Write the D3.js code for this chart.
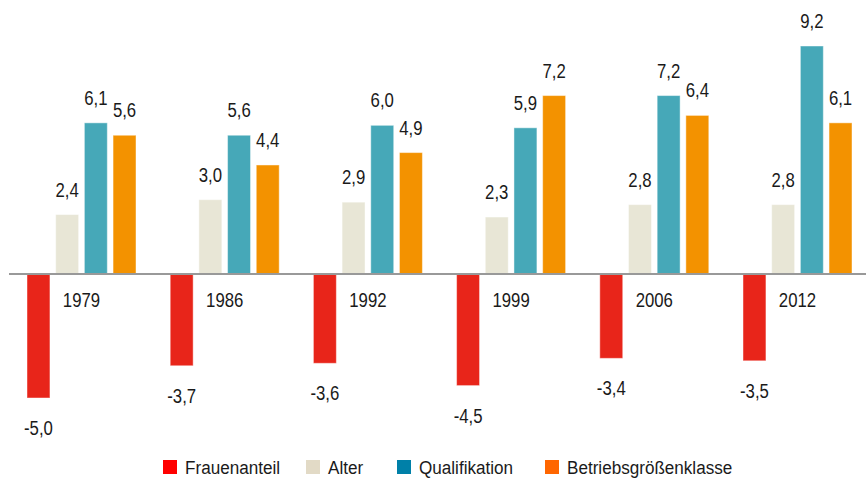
<!DOCTYPE html>
<html>
<head>
<meta charset="utf-8">
<script src="https://cdn.jsdelivr.net/npm/d3@7"></script>
<style>
    body { margin: 0; background: #fff; }
    svg text { font-family: "Liberation Sans", Arial, sans-serif; fill: #1a1a1a; }
</style>
</head>
<body>
<div id="chart"></div>
<script>
// Data
const years = ["1979", "1986", "1992", "1999", "2006", "2012"];
const seriesNames = ["Frauenanteil", "Alter", "Qualifikation", "Betriebsgrößenklasse"];
const frauenanteil = [-5.0, -3.7, -3.6, -4.5, -3.4, -3.5];
const alter = [2.4, 3.0, 2.9, 2.3, 2.8, 2.8];
const qualifikation = [6.1, 5.6, 6.0, 5.9, 7.2, 9.2];
const betriebsgroesse = [5.6, 4.4, 4.9, 7.2, 6.4, 6.1];

const barColors = ["#e8251a", "#e8e6d6", "#46a8b8", "#f39200"];
const legendColors = ["#ff0000", "#e2dac6", "#0080a8", "#ff6600"];

const width = 866, height = 479;
// condensed look: squeeze text horizontally
const squeeze = 0.86;

const svg = d3.select("#chart").append("svg")
    .attr("width", width)
    .attr("height", height);

// Build rows from the arrays
const allSeries = [frauenanteil, alter, qualifikation, betriebsgroesse];
const rows = years.map((yr, i) => ({
    year: yr,
    values: seriesNames.map((s, j) => ({ key: s, value: allSeries[j][i] }))
}));

// Scales
const x0 = d3.scaleBand()
    .domain(years)
    .range([27, 852])
    .paddingInner(0.2388)
    .paddingOuter(0)
    .align(0);

const x1 = d3.scaleBand()
    .domain(seriesNames)
    .range([0, x0.bandwidth()])
    .paddingInner(0.2)
    .paddingOuter(0);

const y = d3.scaleLinear()
    .domain([-5, 9.2])
    .range([398, 46]);

const color = d3.scaleOrdinal().domain(seriesNames).range(barColors);
const fmt = v => d3.format(".1f")(v).replace(".", ",").replace("−", "-");

// Groups
const groups = svg.selectAll(".group")
    .data(rows)
    .enter()
    .append("g")
    .attr("class", "group")
    .attr("transform", d => `translate(${x0(d.year)},0)`);

groups.selectAll("rect")
    .data(d => d.values)
    .enter()
    .append("rect")
    .attr("x", d => x1(d.key))
    .attr("width", x1.bandwidth())
    .attr("y", d => y(Math.max(0, d.value)))
    .attr("height", d => Math.abs(y(d.value) - y(0)))
    .attr("fill", d => color(d.key))
    .attr("stroke", "#ffffff")
    .attr("stroke-opacity", 0.45)
    .attr("stroke-width", 1);

// Value labels
groups.selectAll(".val")
    .data(d => d.values)
    .enter()
    .append("text")
    .attr("class", "val")
    .attr("transform", d => {
        let tx = x1(d.key) + x1.bandwidth() / 2;
        let ty = d.value >= 0 ? y(d.value) - 18 : y(d.value) + 37;
        return `translate(${tx},${ty}) scale(${squeeze},1)`;
    })
    .attr("text-anchor", "middle")
    .attr("font-size", 19.5)
    .text(d => fmt(d.value));

// Year labels
groups.append("text")
    .attr("transform", `translate(${x0.bandwidth() / 2},${y(0) + 33}) scale(${squeeze},1)`)
    .attr("text-anchor", "middle")
    .attr("font-size", 19.5)
    .text(d => d.year);

// Zero line
svg.append("line")
    .attr("x1", 9)
    .attr("x2", width)
    .attr("y1", y(0))
    .attr("y2", y(0))
    .attr("stroke", "#999")
    .attr("stroke-width", 2);

// Legend
const legendX = [163, 306, 397, 545];
const legend = svg.selectAll(".legend")
    .data(seriesNames)
    .enter()
    .append("g")
    .attr("class", "legend")
    .attr("transform", (d, i) => `translate(${legendX[i]},460)`);

legend.append("rect")
    .attr("width", 14)
    .attr("height", 14)
    .attr("fill", (d, i) => legendColors[i]);

legend.append("text")
    .attr("transform", "translate(22,14) scale(0.9,1)")
    .attr("font-size", 19)
    .text(d => d);
</script>
</body>
</html>
